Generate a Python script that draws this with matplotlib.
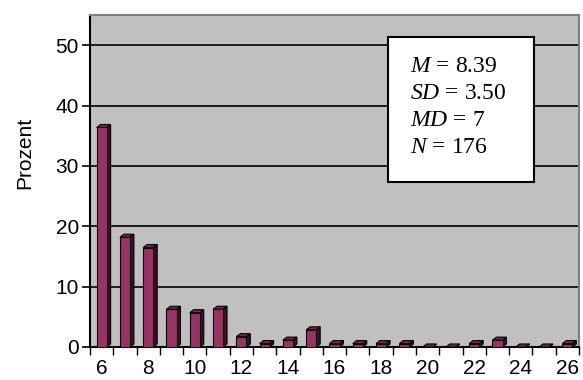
import matplotlib
matplotlib.use("Agg")
import matplotlib.pyplot as plt
from matplotlib.patches import Polygon, Rectangle
import numpy as np

# score distribution, N = 176
scores = list(range(6, 27))
counts = [64, 32, 29, 11, 10, 11, 3, 1, 2, 5, 1, 1, 1, 1, 0, 0, 1, 2, 0, 0, 1]
n_total = 176
percent = [c / n_total * 100 for c in counts]

tick_labels = [str(s) if s % 2 == 0 else "" for s in scores]
stats_lines = [("M", "8.39"), ("SD", "3.50"), ("MD", "7"), ("N", "176")]

W, H = 583, 380
FRONT = "#993366"
SIDE = "#3d0f28"
TOP = "#7a2550"
WALL = "#c0c0c0"

plt.rcParams["font.family"] = ["Liberation Sans", "DejaVu Sans"]
plt.rcParams["mathtext.fontset"] = "custom"
plt.rcParams["mathtext.it"] = "Liberation Serif:italic"
plt.rcParams["mathtext.rm"] = "Liberation Serif"

fig = plt.figure(figsize=(W / 100, H / 100), dpi=100)
ax = fig.add_axes([90 / W, 33 / H, 489 / W, 332 / H])
ax.set_facecolor(WALL)

x = np.arange(len(scores))
bw = 0.43
dx, dy = 0.17, 0.5  # depth of the 3d bars in data units

ax.set_xlim(-0.5, len(scores) - 0.5)
ax.set_ylim(0, 55)

ax.yaxis.grid(True, color="black", lw=1.2)
ax.set_axisbelow(True)

for xi, h in zip(x, percent):
    x0, x1 = xi - bw / 2, xi + bw / 2
    side = Polygon([(x1, 0), (x1, h), (x1 + dx, h + dy), (x1 + dx, dy)],
                   closed=True, fc=SIDE, ec="black", lw=0.8, zorder=3)
    top = Polygon([(x0, h), (x1, h), (x1 + dx, h + dy), (x0 + dx, h + dy)],
                  closed=True, fc=TOP, ec="black", lw=0.8, zorder=3)
    ax.add_patch(side)
    ax.add_patch(top)
ax.bar(x, percent, width=bw, color=FRONT, edgecolor="black", lw=0.8, zorder=4)

# category boundaries carry the tick marks, labels sit in the middle
ax.set_xticks(np.arange(-0.5, len(scores)), labels=[])
ax.set_xticks(x, labels=tick_labels, minor=True)
ax.tick_params(axis="x", which="major", length=6, width=1, direction="out", color="black")
ax.tick_params(axis="x", which="minor", length=0, labelsize=15, pad=9)
ax.set_yticks([0, 10, 20, 30, 40, 50])
ax.tick_params(axis="y", length=6, width=1.2, direction="out", labelsize=15, pad=2)

for s in ["left", "bottom"]:
    ax.spines[s].set_color("black")
    ax.spines[s].set_linewidth(1.5)
for s in ["top", "right"]:
    ax.spines[s].set_color("#808080")
    ax.spines[s].set_linewidth(1.5)

fig.text(25 / W, 1 - 153 / H, "Prozent", rotation=90, fontsize=15,
         ha="center", va="center")

# stats box
box = Rectangle((388 / W, 1 - 182 / H), 146 / W, 145 / H, transform=fig.transFigure,
                fc="white", ec="black", lw=1.5, zorder=10)
fig.patches.append(box)
baselines = [71.7, 99, 125.7, 153.3]
for (sym, val), yb in zip(stats_lines, baselines):
    fig.text(410 / W, 1 - yb / H, r"$\mathit{%s}$ = %s" % (sym, val),
             fontsize=17, family="Liberation Serif", ha="left", va="baseline", zorder=11)

fig.savefig("out.png", dpi=100)
